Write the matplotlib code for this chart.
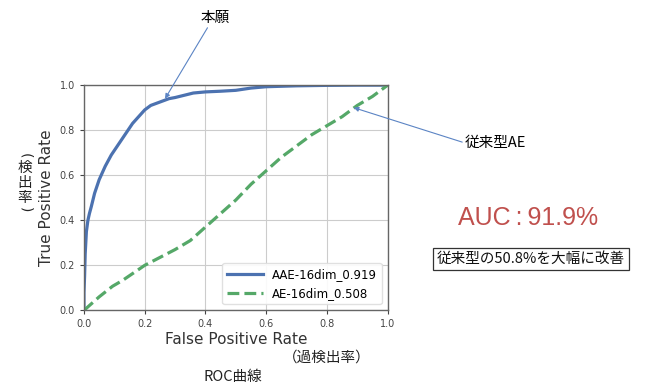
import matplotlib
matplotlib.use('Agg')
import matplotlib.pyplot as plt

# ROC points, read by eye
aae_fpr = [0.0, 0.0, 0.002, 0.004, 0.008, 0.013, 0.018, 0.024, 0.035, 0.05, 0.07, 0.09,
           0.1, 0.12, 0.14, 0.16, 0.18, 0.2, 0.22, 0.25, 0.28, 0.3, 0.33, 0.36, 0.4,
           0.45, 0.5, 0.55, 0.6, 0.7, 0.8, 0.9, 1.0]
aae_tpr = [0.0, 0.08, 0.15, 0.25, 0.35, 0.4, 0.43, 0.46, 0.52, 0.58, 0.64, 0.69,
           0.71, 0.75, 0.79, 0.83, 0.86, 0.89, 0.91, 0.925, 0.94, 0.945, 0.955, 0.965, 0.97,
           0.973, 0.977, 0.987, 0.993, 0.997, 0.999, 1.0, 1.0]
ae_fpr = [0.0, 0.05, 0.094, 0.127, 0.2, 0.25, 0.3, 0.35, 0.4, 0.45, 0.5, 0.55, 0.6,
          0.65, 0.7, 0.75, 0.8, 0.85, 0.9, 0.95, 1.0]
ae_tpr = [0.0, 0.06, 0.107, 0.133, 0.2, 0.235, 0.27, 0.31, 0.37, 0.43, 0.49, 0.56, 0.62,
          0.68, 0.73, 0.78, 0.82, 0.86, 0.91, 0.95, 1.0]

aae_label = 'AAE-16dim_0.919'
ae_label = 'AE-16dim_0.508'
ticks = [0.0, 0.2, 0.4, 0.6, 0.8, 1.0]

JP = ['Noto Sans CJK JP', 'DejaVu Sans']

fig = plt.figure(figsize=(6.56, 3.87), dpi=100)
ax = fig.add_axes([0.128, 0.198, 0.463, 0.582])

ax.plot(aae_fpr, aae_tpr, color='#4c72b0', lw=2.3, label=aae_label)
ax.plot(ae_fpr, ae_tpr, color='#55a868', lw=2.3, ls='--', label=ae_label)

ax.set_xlim(0, 1)
ax.set_ylim(0, 1)
ax.set_xticks(ticks)
ax.set_yticks(ticks)
ax.tick_params(labelsize=7, colors='#444444', length=3)
ax.grid(True, color='#cccccc', lw=0.8)
for sp in ax.spines.values():
    sp.set_color('#666666')
    sp.set_linewidth(1.0)
ax.set_xlabel('False Positive Rate', fontsize=11, color='#333333', labelpad=2)
ax.set_ylabel('True Positive Rate', fontsize=11, color='#333333', labelpad=4)
leg = ax.legend(loc='lower right', fontsize=8.5, framealpha=0.9, edgecolor='#dddddd',
                handlelength=3)

# 縦書きの「（検出率）」: 漢字は1文字ずつ、括弧は回転して配置
tate = ['検', '出', '率']
tate_y = [168, 183, 198]
for ch, yy in zip(tate, tate_y):
    fig.text(25 / 656, 1 - yy / 387, ch, family=JP, fontsize=10.5,
             ha='center', va='center', color='#222222')
fig.text(25 / 656, 1 - 156 / 387, '(', fontsize=10, rotation=-90,
         ha='center', va='center', color='#222222')
fig.text(25 / 656, 1 - 210 / 387, ')', fontsize=10, rotation=-90,
         ha='center', va='center', color='#222222')

fig.text(327 / 656, 1 - 358 / 387, '（過検出率）', family=JP, fontsize=10.5,
         ha='center', va='center', color='#222222')
fig.text(233 / 656, 1 - 377 / 387, 'ROC曲線', family=JP, fontsize=10.5,
         ha='center', va='center', color='#222222')

arrow = dict(arrowstyle='-|>', color='#5b84c4', lw=0.8, mutation_scale=7,
             shrinkA=0, shrinkB=0)
ax.annotate('本願', xy=(0.267, 0.94), xycoords='data',
            xytext=(215, 387 - 18), textcoords='figure pixels',
            family=JP, fontsize=10.5, ha='center', va='center',
            arrowprops=dict(arrow, relpos=(0.3, 0.0)), annotation_clip=False)
ax.annotate('従来型AE', xy=(0.888, 0.9), xycoords='data',
            xytext=(465, 387 - 143), textcoords='figure pixels',
            family=JP, fontsize=10.5, ha='left', va='center',
            arrowprops=dict(arrow, relpos=(0.0, 0.5)), annotation_clip=False)

fig.text(528 / 656, 1 - 218 / 387, 'AUC\u2009:\u200991.9%', family=['Liberation Sans', 'DejaVu Sans'],
         fontsize=18, color='#c0504d', ha='center', va='center')
fig.text(531 / 656, 1 - 259 / 387, '従来型の50.8%を大幅に改善', family=JP, fontsize=10.5,
         ha='center', va='center', color='#111111',
         bbox=dict(boxstyle='square,pad=0.25', fc='white', ec='#333333', lw=0.9))

fig.savefig('out.png', dpi=100)
